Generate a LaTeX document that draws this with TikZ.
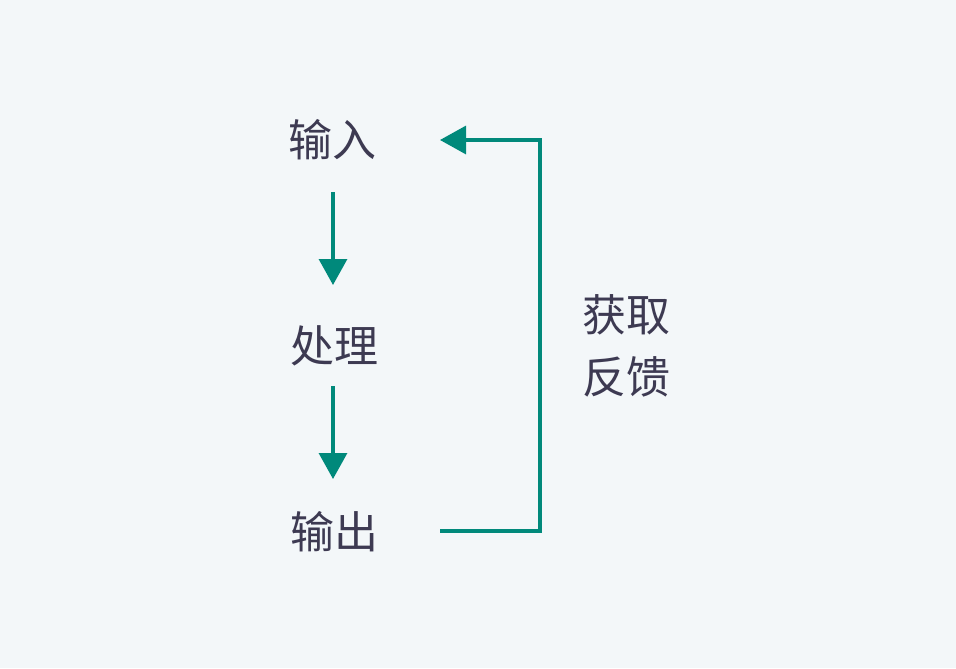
\documentclass[tikz,border=0pt]{standalone}
\usepackage{fontspec}
\newfontfamily\cjk{Noto Sans CJK SC}
\usetikzlibrary{arrows.meta}
\definecolor{bg}{HTML}{F3F7F9}
\definecolor{txt}{HTML}{3D3A52}
\definecolor{teal}{HTML}{00897B}
\tikzset{
  lbl/.style={font=\cjk\fontsize{33}{44}\selectfont, text=txt, inner sep=0pt},
  conn/.style={draw=teal, line width=2.4pt, -{Triangle[length=19.5pt,width=21pt]}},
}
\begin{document}
\begin{tikzpicture}[x=0.75pt,y=-0.75pt]
\fill[bg] (0,0) rectangle (956,668);
\useasboundingbox (0,0) rectangle (956,668);
\node[lbl] (in) at (332,140) {输入};
\node[lbl] (proc) at (334,346) {处理};
\node[lbl] (out) at (334,532) {输出};
\node[lbl,align=center] (fb) at (626,346) {获取\\[2pt]反馈};
\coordinate (a1s) at (333,192); \coordinate (a1e) at (333,285);
\coordinate (a2s) at (333,386); \coordinate (a2e) at (333,479);
\coordinate (fs) at (440,531); \coordinate (fe) at (440,140);
\draw[conn] (a1s) -- (a1e);
\draw[conn] (a2s) -- (a2e);
\draw[conn] (fs) -- (540,531) -- (540,140) -- (fe);
\end{tikzpicture}
\end{document}
